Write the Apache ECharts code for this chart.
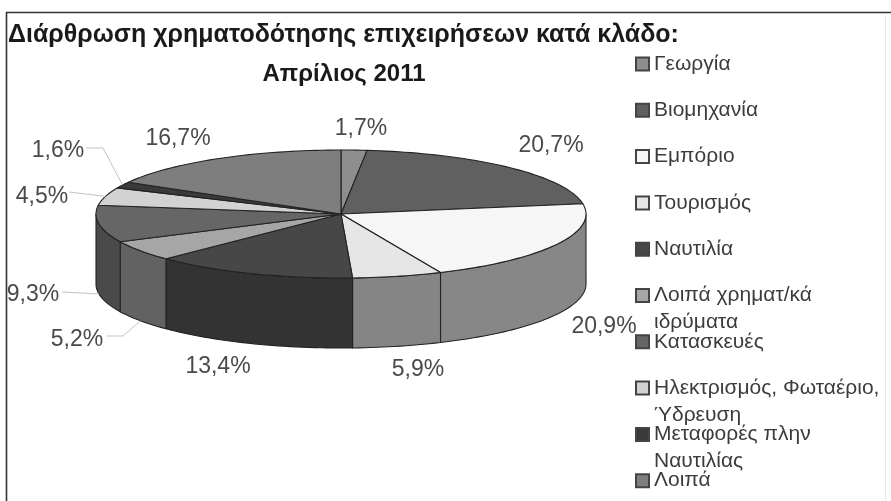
<!DOCTYPE html>
<html><head><meta charset="utf-8">
<style>html,body{margin:0;padding:0;background:#fff}#c{width:891px;height:501px}</style>
<script src="https://cdn.jsdelivr.net/npm/echarts@6/dist/echarts.min.js"></script>
</head><body><div id="c"></div>
<script>
const categories = ['Γεωργία','Βιομηχανία','Εμπόριο','Τουρισμός','Ναυτιλία','Λοιπά χρηματ/κά','Κατασκευές','Ηλεκτρισμός, Φωταέριο,','Μεταφορές πλην','Λοιπά'];
const secondLines = ['','','','','','ιδρύματα','','Ύδρευση','Ναυτιλίας',''];
const values = [1.7,20.7,20.9,5.9,13.4,5.2,9.3,4.5,1.6,16.7];
const valueLabels = ['1,7%','20,7%','20,9%','5,9%','13,4%','5,2%','9,3%','4,5%','1,6%','16,7%'];
const topColors = ['#8e8e8e','#606060','#f6f6f6','#e6e6e6','#474747','#a6a6a6','#666666','#d2d2d2','#3a3a3a','#7e7e7e'];
const sideColors = ['#6e6e6e','#4c4c4c','#878787','#858585','#333333','#626262','#4a4a4a','#a0a0a0','#2a2a2a','#606060'];

// layout
const PIE = {cx:341, cy:214, rx:245, ry:64, depth:70};
const labelPos = [[361,129],[551,146],[604,327],[418,370],[218,367],[77,340],[33,295],[42,197],[58,151],[178,139]];
const leaderElbow = [null,null,null,null,null,[123,336],[62,292],[69,192],[103,148],null];
const leaderStart = [null,null,null,null,null,[107,336],null,null,[86,148],null];
const leaderOnFloor = [false,false,false,false,false,true,true,false,false,false];
const LEGEND = {x:635, firstRowY:64, rowStep:46.3, textX:654, secondLineDrop:27, symbol:13};

const total = values.reduce((a,b)=>a+b,0);
const rim = (deg, drop) => {
  const r = deg*Math.PI/180;
  return [PIE.cx + PIE.rx*Math.sin(r), PIE.cy - PIE.ry*Math.cos(r) + (drop||0)];
};
const arc = (a,b,drop) => {
  const n = Math.max(2, Math.ceil(Math.abs(b-a)/1.5)), out=[];
  for(let i=0;i<=n;i++) out.push(rim(a+(b-a)*i/n, drop));
  return out;
};
const edge = {stroke:'#222', lineWidth:1.1, lineJoin:'round'};

const series = categories.map((name,i)=>{
  const before = values.slice(0,i).reduce((a,b)=>a+b,0);
  const a0 = before/total*360, a1 = (before+values[i])/total*360;
  return {
    name, type:'custom', coordinateSystem:'none', silent:true,
    itemStyle:{color:topColors[i], borderColor:'#444', borderWidth:1.4},
    data:[values[i]],
    renderItem(){
      const kids=[];
      const s=Math.max(a0,90), e=Math.min(a1,270);
      if(e>s){
        kids.push({type:'polygon', z2:1, shape:{points:arc(s,e,0).concat(arc(e,s,PIE.depth))},
          style:Object.assign({fill:sideColors[i]},edge)});
      }
      kids.push({type:'polygon', z2:5, shape:{points:[[PIE.cx,PIE.cy]].concat(arc(a0,a1,0))},
        style:Object.assign({fill:topColors[i]},edge)});
      const mid=(a0+a1)/2;
      if(leaderElbow[i]){
        const end=rim(mid, leaderOnFloor[i]?PIE.depth:0);
        const pts=[]; if(leaderStart[i]) pts.push(leaderStart[i]);
        pts.push(leaderElbow[i]); pts.push(end);
        kids.push({type:'polyline', z2:6, shape:{points:pts}, style:{fill:null, stroke:'#c4c4c4', lineWidth:1}});
      }
      kids.push({type:'text', z2:7, style:{x:labelPos[i][0], y:labelPos[i][1], text:valueLabels[i],
        fill:'#4a4a4a', font:'23px "Liberation Sans"', align:'center', verticalAlign:'middle'}});
      return {type:'group', children:kids};
    }
  };
});

const chart = echarts.init(document.getElementById('c'), null, {renderer:'canvas'});
const legendFont = '21px "Liberation Sans"';
chart.setOption({
  animation:false, backgroundColor:'#fff',
  title:[
    {text:'Διάρθρωση χρηματοδότησης επιχειρήσεων κατά κλάδο:', left:8, top:23, padding:0,
      textStyle:{fontFamily:'"Liberation Sans"', fontWeight:'bold', fontSize:25, color:'#1a1a1a'}},
    {text:'Απρίλιος 2011', left:344, top:62, padding:0, textAlign:'center',
      textStyle:{fontFamily:'"Liberation Sans"', fontWeight:'bold', fontSize:24, color:'#1a1a1a'}}
  ],
  legend:{
    orient:'vertical', left:LEGEND.x, top:LEGEND.firstRowY-11.5, height:470, padding:0,
    itemWidth:LEGEND.symbol, itemHeight:LEGEND.symbol, itemGap:LEGEND.rowStep-23,
    icon:'rect', selectedMode:false, data:categories,
    textStyle:{fontFamily:'"Liberation Sans"', fontSize:21, lineHeight:23, height:23, color:'#3c3c3c'}
  },
  graphic:[
    {type:'line', silent:true, shape:{x1:6.5,y1:12,x2:6.5,y2:501}, style:{stroke:'#333', lineWidth:1.6}},
    {type:'line', silent:true, shape:{x1:6,y1:12.5,x2:891,y2:12.5}, style:{stroke:'#333', lineWidth:1.6}},
    {type:'line', silent:true, shape:{x1:885.5,y1:15,x2:885.5,y2:501}, style:{stroke:'#e8e8e8', lineWidth:1}}
  ].concat(categories.map((c,i)=>secondLines[i]?{
    type:'text', silent:true, x:LEGEND.textX, y:LEGEND.firstRowY + i*LEGEND.rowStep + LEGEND.secondLineDrop,
    style:{x:0,y:0,text:secondLines[i], font:legendFont, fill:'#3c3c3c', verticalAlign:'middle'}
  }:null).filter(Boolean)),
  series
});
</script></body></html>
